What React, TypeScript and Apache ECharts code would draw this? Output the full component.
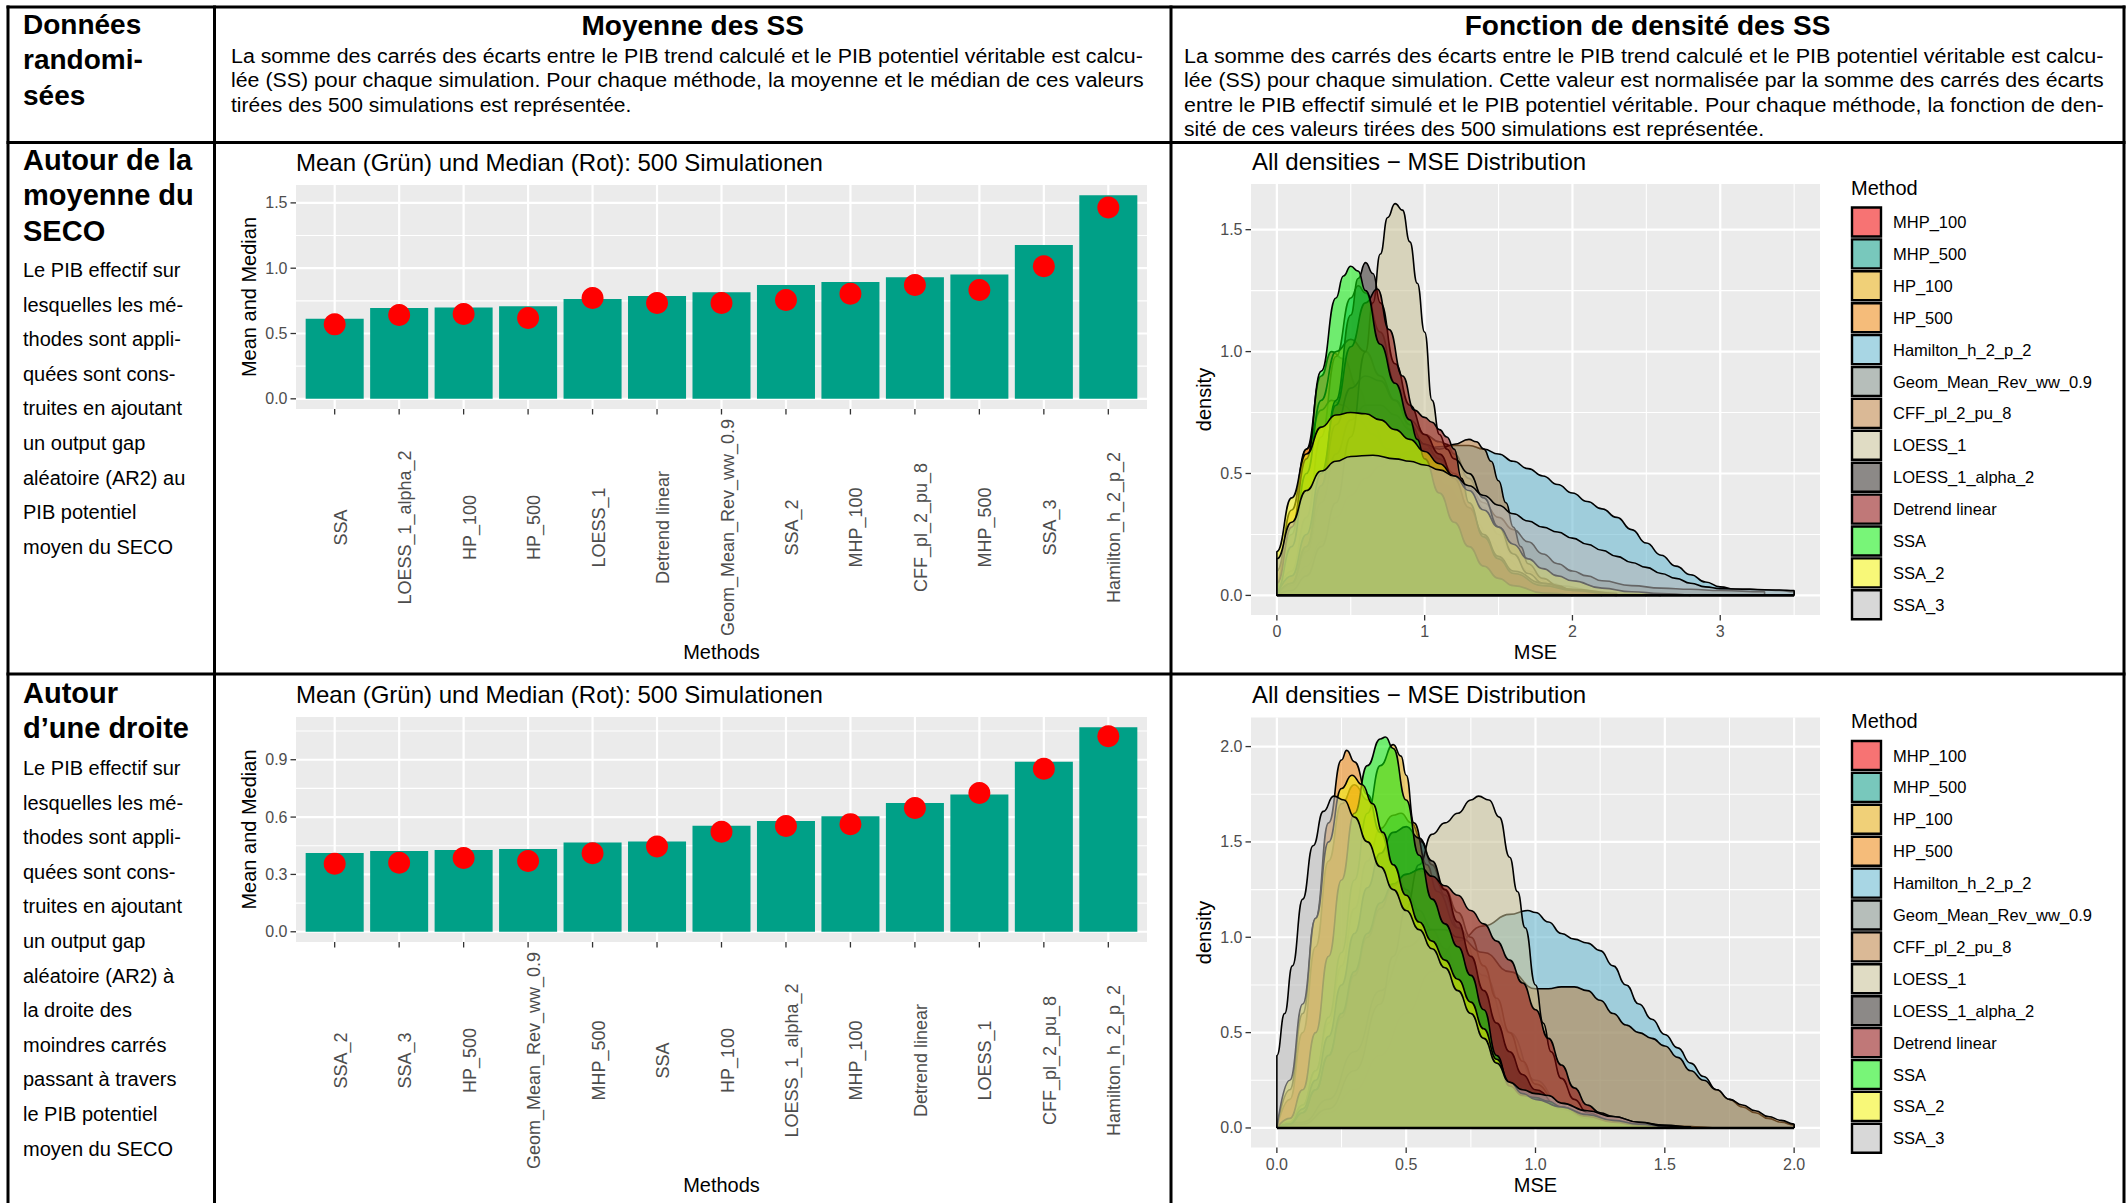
import React, { useEffect, useRef } from 'react';
import * as echarts from 'echarts';

const W = 2127;
const H = 1203;
const FONT = 'Liberation Sans, Arial, Helvetica, sans-serif';

// ---------------- Bar charts: means (bars) and medians (points) ----------------
const barTopCategories = ['SSA', 'LOESS_1_alpha_2', 'HP_100', 'HP_500', 'LOESS_1', 'Detrend linear', 'Geom_Mean_Rev_ww_0.9', 'SSA_2', 'MHP_100', 'CFF_pl_2_pu_8', 'MHP_500', 'SSA_3', 'Hamilton_h_2_p_2'];
const barTopMeans = [0.613, 0.695, 0.7, 0.708, 0.764, 0.787, 0.815, 0.871, 0.894, 0.93, 0.951, 1.178, 1.559];
const barTopMedians = [0.57, 0.641, 0.649, 0.618, 0.772, 0.733, 0.733, 0.756, 0.805, 0.871, 0.833, 1.015, 1.464];
const barTopYTicks = [0, 0.5, 1.0, 1.5];
const barTopYMinor = [0.25, 0.75, 1.25];

const barBotCategories = ['SSA_2', 'SSA_3', 'HP_500', 'Geom_Mean_Rev_ww_0.9', 'MHP_500', 'SSA', 'HP_100', 'LOESS_1_alpha_2', 'MHP_100', 'Detrend linear', 'LOESS_1', 'CFF_pl_2_pu_8', 'Hamilton_h_2_p_2'];
const barBotMeans = [0.412, 0.423, 0.428, 0.433, 0.467, 0.472, 0.554, 0.579, 0.604, 0.674, 0.718, 0.889, 1.07];
const barBotMedians = [0.356, 0.361, 0.386, 0.37, 0.411, 0.446, 0.523, 0.553, 0.563, 0.647, 0.726, 0.853, 1.023];
const barBotYTicks = [0, 0.3, 0.6, 0.9];
const barBotYMinor = [0.15, 0.45, 0.75, 1.05];

// ---------------- Density charts ----------------
const methods = ['MHP_100', 'MHP_500', 'HP_100', 'HP_500', 'Hamilton_h_2_p_2', 'Geom_Mean_Rev_ww_0.9', 'CFF_pl_2_pu_8', 'LOESS_1', 'LOESS_1_alpha_2', 'Detrend linear', 'SSA', 'SSA_2', 'SSA_3'];
const methodColors = ['#F00000', '#0A9B85', '#E4AA0A', '#ED850D', '#61B4CE', '#7A8982', '#BC8040', '#C7BF94', '#2E2825', '#8C0A0A', '#0AED0A', '#F2F20A', '#B8B8B8'];

const densTopXTicks = [0, 1, 2, 3];
const densTopXMinor = [0.5, 1.5, 2.5, 3.5];
const densTopYTicks = [0, 0.5, 1.0, 1.5];
const densTopYMinor = [0.25, 0.75, 1.25];
const densBotXTicks = [0, 0.5, 1.0, 1.5, 2.0];
const densBotXMinor = [0.25, 0.75, 1.25, 1.75];
const densBotYTicks = [0, 0.5, 1.0, 1.5, 2.0];
const densBotYMinor = [0.25, 0.75, 1.25, 1.75];

// top density (around SECO mean)
const dTopMHP100 = [[0, 0], [0.1, 0.25], [0.2, 0.6], [0.3, 0.9], [0.37, 1.0], [0.45, 0.97], [0.55, 0.85], [0.65, 0.7], [0.75, 0.58], [0.85, 0.5], [0.95, 0.42], [1.05, 0.35], [1.15, 0.28], [1.3, 0.18], [1.45, 0.1], [1.6, 0.05], [1.8, 0.025], [2.0, 0.01], [2.3, 0]];
const dTopMHP500 = [[0, 0], [0.1, 0.1], [0.2, 0.32], [0.3, 0.65], [0.4, 0.98], [0.5, 1.22], [0.55, 1.27], [0.6, 1.24], [0.7, 1.08], [0.8, 0.87], [0.9, 0.68], [1.0, 0.52], [1.1, 0.38], [1.2, 0.27], [1.3, 0.18], [1.4, 0.11], [1.5, 0.07], [1.7, 0.03], [2.0, 0.01], [2.2, 0]];
const dTopHP100 = [[0, 0.1], [0.1, 0.35], [0.2, 0.6], [0.3, 0.76], [0.37, 0.8], [0.45, 0.78], [0.55, 0.72], [0.65, 0.66], [0.75, 0.6], [0.85, 0.56], [0.95, 0.53], [1.05, 0.5], [1.15, 0.45], [1.25, 0.38], [1.35, 0.3], [1.45, 0.22], [1.55, 0.15], [1.7, 0.08], [1.9, 0.04], [2.2, 0.015], [2.5, 0]];
const dTopHP500 = [[0, 0.02], [0.1, 0.2], [0.2, 0.5], [0.3, 0.8], [0.4, 1.0], [0.5, 1.05], [0.6, 1.0], [0.7, 0.9], [0.8, 0.8], [0.9, 0.72], [1.0, 0.66], [1.1, 0.63], [1.15, 0.62], [1.2, 0.58], [1.3, 0.48], [1.4, 0.36], [1.5, 0.25], [1.6, 0.16], [1.7, 0.1], [1.85, 0.05], [2.0, 0.025], [2.3, 0.008], [2.6, 0]];
const dTopHamilton = [[0, 0], [0.1, 0.04], [0.2, 0.12], [0.3, 0.22], [0.4, 0.32], [0.5, 0.41], [0.6, 0.48], [0.7, 0.53], [0.8, 0.57], [0.9, 0.59], [1.0, 0.6], [1.1, 0.61], [1.2, 0.615], [1.3, 0.615], [1.4, 0.6], [1.5, 0.58], [1.6, 0.55], [1.7, 0.52], [1.8, 0.49], [1.9, 0.455], [2.0, 0.42], [2.1, 0.385], [2.2, 0.355], [2.3, 0.32], [2.4, 0.27], [2.5, 0.215], [2.6, 0.165], [2.7, 0.12], [2.8, 0.085], [2.9, 0.055], [3.0, 0.035], [3.1, 0.025], [3.2, 0.025], [3.3, 0.022], [3.4, 0.02], [3.5, 0.015]];
const dTopGeom = [[0, 0], [0.1, 0.05], [0.2, 0.18], [0.3, 0.38], [0.4, 0.58], [0.5, 0.72], [0.6, 0.78], [0.7, 0.78], [0.8, 0.74], [0.9, 0.68], [1.0, 0.62], [1.1, 0.56], [1.2, 0.5], [1.3, 0.44], [1.4, 0.38], [1.5, 0.32], [1.6, 0.27], [1.7, 0.22], [1.8, 0.17], [1.9, 0.13], [2.0, 0.1], [2.1, 0.08], [2.2, 0.06], [2.4, 0.04], [2.6, 0.03], [2.8, 0.025], [3.0, 0.02], [3.3, 0.015]];
const dTopCFF = [[0, 0], [0.1, 0.05], [0.2, 0.2], [0.3, 0.45], [0.4, 0.7], [0.5, 0.85], [0.6, 0.9], [0.7, 0.88], [0.8, 0.8], [0.9, 0.7], [1.0, 0.62], [1.1, 0.6], [1.2, 0.62], [1.3, 0.64], [1.35, 0.63], [1.4, 0.6], [1.45, 0.55], [1.5, 0.47], [1.55, 0.38], [1.6, 0.28], [1.65, 0.2], [1.7, 0.13], [1.8, 0.07], [1.9, 0.04], [2.0, 0.02], [2.2, 0.005]];
const dTopLOESS1 = [[0, 0], [0.1, 0.02], [0.2, 0.08], [0.3, 0.2], [0.4, 0.38], [0.5, 0.65], [0.6, 1.0], [0.65, 1.2], [0.7, 1.4], [0.75, 1.55], [0.8, 1.607], [0.85, 1.58], [0.9, 1.45], [0.95, 1.28], [1.0, 1.08], [1.05, 0.8], [1.1, 0.66], [1.15, 0.6], [1.2, 0.56], [1.3, 0.5], [1.4, 0.4], [1.5, 0.28], [1.6, 0.17], [1.7, 0.09], [1.8, 0.05], [2.0, 0.02], [2.3, 0.005]];
const dTopLOESS1a2 = [[0, 0], [0.1, 0.05], [0.2, 0.2], [0.3, 0.45], [0.4, 0.8], [0.5, 1.15], [0.55, 1.3], [0.6, 1.365], [0.65, 1.32], [0.7, 1.2], [0.8, 0.95], [0.9, 0.78], [1.0, 0.66], [1.1, 0.58], [1.2, 0.48], [1.3, 0.36], [1.4, 0.25], [1.5, 0.16], [1.6, 0.1], [1.8, 0.05], [2.0, 0.025], [2.3, 0.008]];
const dTopDetrend = [[0, 0], [0.1, 0.08], [0.2, 0.25], [0.3, 0.5], [0.4, 0.78], [0.5, 1.02], [0.6, 1.2], [0.68, 1.257], [0.76, 1.09], [0.85, 0.9], [0.93, 0.76], [1.0, 0.73], [1.05, 0.71], [1.1, 0.68], [1.15, 0.65], [1.2, 0.6], [1.25, 0.48], [1.3, 0.38], [1.4, 0.24], [1.5, 0.15], [1.6, 0.09], [1.8, 0.04], [2.0, 0.02], [2.3, 0.005]];
const dTopSSA = [[0, 0.05], [0.1, 0.28], [0.2, 0.56], [0.3, 0.92], [0.4, 1.22], [0.45, 1.31], [0.5, 1.35], [0.55, 1.33], [0.6, 1.25], [0.7, 1.03], [0.8, 0.87], [0.9, 0.72], [0.95, 0.64], [1.0, 0.56], [1.1, 0.42], [1.2, 0.3], [1.3, 0.2], [1.4, 0.12], [1.5, 0.07], [1.6, 0.04], [1.8, 0.01], [2.0, 0]];
const dTopSSA2 = [[0, 0.18], [0.1, 0.4], [0.2, 0.58], [0.3, 0.69], [0.4, 0.74], [0.5, 0.75], [0.6, 0.745], [0.7, 0.72], [0.8, 0.68], [0.9, 0.64], [1.0, 0.59], [1.1, 0.54], [1.2, 0.49], [1.3, 0.43], [1.4, 0.35], [1.5, 0.28], [1.6, 0.21], [1.7, 0.15], [1.8, 0.11], [1.9, 0.08], [2.0, 0.06], [2.2, 0.03], [2.4, 0.015], [2.6, 0.008], [2.8, 0]];
const dTopSSA3 = [[0, 0.15], [0.1, 0.3], [0.2, 0.43], [0.3, 0.51], [0.4, 0.55], [0.5, 0.57], [0.65, 0.575], [0.8, 0.56], [0.9, 0.55], [1.0, 0.535], [1.1, 0.515], [1.2, 0.49], [1.3, 0.45], [1.4, 0.41], [1.5, 0.37], [1.6, 0.335], [1.7, 0.305], [1.8, 0.28], [1.9, 0.26], [2.0, 0.235], [2.1, 0.21], [2.2, 0.185], [2.3, 0.16], [2.4, 0.135], [2.5, 0.115], [2.6, 0.09], [2.7, 0.07], [2.8, 0.05], [2.9, 0.035], [3.0, 0.028], [3.2, 0.025], [3.4, 0.022], [3.5, 0.02]];

// bottom density (around a straight line)
const dBotMHP100 = [[0, 0], [0.05, 0.15], [0.1, 0.5], [0.15, 0.95], [0.2, 1.4], [0.25, 1.7], [0.3, 1.8], [0.35, 1.72], [0.4, 1.55], [0.45, 1.38], [0.5, 1.24], [0.55, 1.12], [0.6, 1.0], [0.65, 0.9], [0.7, 0.78], [0.75, 0.64], [0.8, 0.5], [0.85, 0.36], [0.9, 0.24], [1.0, 0.12], [1.1, 0.06], [1.2, 0.03], [1.4, 0.01], [1.6, 0]];
const dBotMHP500 = [[0, 0], [0.05, 0.03], [0.1, 0.12], [0.15, 0.3], [0.2, 0.55], [0.25, 0.85], [0.3, 1.15], [0.35, 1.4], [0.4, 1.57], [0.45, 1.64], [0.48, 1.65], [0.52, 1.6], [0.56, 1.5], [0.6, 1.38], [0.65, 1.22], [0.7, 1.05], [0.75, 0.88], [0.8, 0.7], [0.85, 0.52], [0.9, 0.36], [0.95, 0.24], [1.0, 0.16], [1.1, 0.08], [1.2, 0.04], [1.4, 0.01], [1.6, 0]];
const dBotHP100 = [[0, 0], [0.05, 0.03], [0.1, 0.12], [0.15, 0.3], [0.2, 0.58], [0.25, 0.92], [0.3, 1.3], [0.35, 1.65], [0.4, 1.9], [0.45, 2.01], [0.48, 1.95], [0.5, 1.85], [0.53, 1.6], [0.58, 1.38], [0.62, 1.24], [0.7, 1.05], [0.8, 0.8], [0.9, 0.5], [1.0, 0.25], [1.1, 0.12], [1.2, 0.06], [1.3, 0.03], [1.5, 0.01], [1.7, 0]];
const dBotHP500 = [[0, 0], [0.05, 0.2], [0.1, 0.6], [0.15, 1.1], [0.2, 1.6], [0.25, 1.93], [0.27, 1.98], [0.3, 1.92], [0.35, 1.75], [0.4, 1.55], [0.45, 1.38], [0.5, 1.25], [0.55, 1.14], [0.6, 1.04], [0.65, 0.94], [0.7, 0.82], [0.75, 0.68], [0.8, 0.52], [0.85, 0.37], [0.9, 0.25], [0.95, 0.17], [1.0, 0.12], [1.1, 0.07], [1.2, 0.04], [1.4, 0.01], [1.6, 0]];
const dBotHamilton = [[0, 0], [0.1, 0.02], [0.2, 0.08], [0.3, 0.2], [0.4, 0.38], [0.5, 0.6], [0.6, 0.82], [0.7, 0.98], [0.8, 1.06], [0.9, 1.12], [0.97, 1.14], [1.0, 1.13], [1.05, 1.08], [1.1, 1.02], [1.15, 0.99], [1.2, 0.97], [1.25, 0.93], [1.3, 0.85], [1.35, 0.75], [1.4, 0.65], [1.45, 0.57], [1.5, 0.49], [1.55, 0.42], [1.6, 0.34], [1.65, 0.27], [1.7, 0.2], [1.75, 0.15], [1.8, 0.11], [1.85, 0.08], [1.9, 0.05], [1.95, 0.03], [2.0, 0.015]];
const dBotGeom = [[0, 0], [0.05, 0.02], [0.1, 0.08], [0.15, 0.2], [0.2, 0.38], [0.25, 0.58], [0.3, 0.8], [0.35, 1.0], [0.4, 1.15], [0.45, 1.27], [0.5, 1.33], [0.55, 1.35], [0.6, 1.32], [0.65, 1.25], [0.7, 1.13], [0.75, 1.0], [0.8, 0.85], [0.85, 0.68], [0.9, 0.5], [0.95, 0.35], [1.0, 0.23], [1.1, 0.1], [1.2, 0.05], [1.3, 0.03], [1.5, 0.01], [1.7, 0]];
const dBotCFF = [[0, 0], [0.1, 0.03], [0.2, 0.15], [0.3, 0.4], [0.4, 0.72], [0.5, 0.95], [0.6, 1.04], [0.65, 1.04], [0.7, 1.0], [0.8, 0.92], [0.9, 0.82], [1.0, 0.73], [1.05, 0.73], [1.1, 0.74], [1.15, 0.74], [1.2, 0.72], [1.25, 0.67], [1.3, 0.6], [1.35, 0.54], [1.4, 0.5], [1.45, 0.47], [1.5, 0.43], [1.55, 0.37], [1.6, 0.3], [1.65, 0.25], [1.7, 0.2], [1.75, 0.15], [1.8, 0.12], [1.85, 0.09], [1.9, 0.06], [1.95, 0.04], [2.0, 0.02]];
const dBotLOESS1 = [[0, 0], [0.1, 0.02], [0.2, 0.1], [0.3, 0.3], [0.4, 0.65], [0.45, 0.9], [0.5, 1.15], [0.55, 1.38], [0.6, 1.54], [0.65, 1.6], [0.7, 1.65], [0.75, 1.72], [0.78, 1.74], [0.82, 1.72], [0.86, 1.63], [0.9, 1.42], [0.93, 1.24], [0.96, 1.05], [1.0, 0.75], [1.03, 0.55], [1.06, 0.4], [1.1, 0.26], [1.15, 0.15], [1.2, 0.08], [1.3, 0.03], [1.4, 0.01], [1.5, 0]];
const dBotLOESS1a2 = [[0, 0], [0.05, 0.02], [0.1, 0.1], [0.15, 0.25], [0.2, 0.48], [0.25, 0.75], [0.3, 1.02], [0.35, 1.26], [0.4, 1.44], [0.45, 1.55], [0.5, 1.58], [0.55, 1.52], [0.6, 1.4], [0.65, 1.25], [0.7, 1.08], [0.75, 0.9], [0.8, 0.72], [0.85, 0.55], [0.9, 0.4], [0.95, 0.28], [1.0, 0.2], [1.1, 0.1], [1.2, 0.05], [1.4, 0.015], [1.6, 0]];
const dBotDetrend = [[0, 0], [0.05, 0.02], [0.1, 0.08], [0.15, 0.2], [0.2, 0.38], [0.25, 0.6], [0.3, 0.82], [0.35, 1.02], [0.4, 1.18], [0.45, 1.28], [0.5, 1.33], [0.56, 1.36], [0.6, 1.32], [0.65, 1.27], [0.7, 1.22], [0.75, 1.14], [0.8, 1.07], [0.85, 0.98], [0.9, 0.88], [0.95, 0.76], [1.0, 0.62], [1.05, 0.47], [1.1, 0.33], [1.15, 0.21], [1.2, 0.12], [1.25, 0.08], [1.3, 0.06], [1.4, 0.03], [1.5, 0.015], [1.6, 0.005]];
const dBotSSA = [[0, 0], [0.05, 0.05], [0.1, 0.2], [0.15, 0.5], [0.2, 0.9], [0.25, 1.3], [0.3, 1.65], [0.35, 1.9], [0.4, 2.04], [0.42, 2.05], [0.45, 1.99], [0.5, 1.72], [0.55, 1.43], [0.6, 1.2], [0.65, 1.07], [0.7, 0.95], [0.75, 0.8], [0.8, 0.62], [0.85, 0.38], [0.9, 0.22], [0.95, 0.17], [1.0, 0.16], [1.05, 0.14], [1.1, 0.11], [1.2, 0.06], [1.3, 0.03], [1.4, 0.015], [1.5, 0.005]];
const dBotSSA2 = [[0, 0], [0.05, 0.25], [0.1, 0.65], [0.15, 1.1], [0.2, 1.5], [0.25, 1.78], [0.29, 1.85], [0.33, 1.8], [0.37, 1.7], [0.41, 1.55], [0.45, 1.38], [0.5, 1.22], [0.55, 1.08], [0.6, 0.98], [0.65, 0.88], [0.7, 0.78], [0.75, 0.66], [0.8, 0.52], [0.85, 0.36], [0.9, 0.24], [0.95, 0.18], [1.0, 0.15], [1.1, 0.11], [1.2, 0.07], [1.3, 0.04], [1.4, 0.02], [1.5, 0.008]];
const dBotSSA3 = [[0, 0.38], [0.03, 0.6], [0.06, 0.85], [0.1, 1.2], [0.14, 1.48], [0.18, 1.66], [0.22, 1.74], [0.26, 1.72], [0.3, 1.63], [0.35, 1.5], [0.4, 1.37], [0.45, 1.25], [0.5, 1.14], [0.55, 1.04], [0.6, 0.94], [0.65, 0.84], [0.7, 0.72], [0.75, 0.6], [0.8, 0.47], [0.85, 0.34], [0.9, 0.24], [0.95, 0.2], [1.0, 0.18], [1.05, 0.17], [1.1, 0.13], [1.2, 0.09], [1.3, 0.06], [1.4, 0.03], [1.5, 0.01], [1.6, 0.005]];

const densTopCurves = [dTopMHP100, dTopMHP500, dTopHP100, dTopHP500, dTopHamilton, dTopGeom, dTopCFF, dTopLOESS1, dTopLOESS1a2, dTopDetrend, dTopSSA, dTopSSA2, dTopSSA3];
const densBotCurves = [dBotMHP100, dBotMHP500, dBotHP100, dBotHP500, dBotHamilton, dBotGeom, dBotCFF, dBotLOESS1, dBotLOESS1a2, dBotDetrend, dBotSSA, dBotSSA2, dBotSSA3];

// ---------------- Texts ----------------
const headerCol1 = ['Données', 'randomi-', 'sées'];
const headerCol2Title = 'Moyenne des SS';
const headerCol2Lines = [
  'La somme des carrés des écarts entre le PIB trend calculé et le PIB potentiel véritable est calcu-',
  'lée (SS) pour chaque simulation. Pour chaque méthode, la moyenne et le médian de ces valeurs',
  'tirées des 500 simulations est représentée.',
];
const headerCol3Title = 'Fonction de densité des SS';
const headerCol3Lines = [
  'La somme des carrés des écarts entre le PIB trend calculé et le PIB potentiel véritable est calcu-',
  'lée (SS) pour chaque simulation. Cette valeur est normalisée par la somme des carrés des écarts',
  'entre le PIB effectif simulé et le PIB potentiel véritable. Pour chaque méthode, la fonction de den-',
  'sité de ces valeurs tirées des 500 simulations est représentée.',
];
const row1Heading = ['Autour de la', 'moyenne du', 'SECO'];
const row1Body = ['Le PIB effectif sur', 'lesquelles les mé-', 'thodes sont appli-', 'quées sont cons-', 'truites en ajoutant', 'un output gap', 'aléatoire (AR2) au', 'PIB potentiel', 'moyen du SECO'];
const row2Heading = ['Autour', 'd\u2019une droite'];
const row2Body = ['Le PIB effectif sur', 'lesquelles les mé-', 'thodes sont appli-', 'quées sont cons-', 'truites en ajoutant', 'un output gap', 'aléatoire (AR2) à', 'la droite des', 'moindres carrés', 'passant à travers', 'le PIB potentiel', 'moyen du SECO'];
const barTitle = 'Mean (Grün) und Median (Rot): 500 Simulationen';
const densTitle = 'All densities \u2212 MSE Distribution';

// ---------------- Layout (pixels) ----------------
type Rect = { left: number; top: number; width: number; height: number };
const PANEL_BAR_TOP: Rect = { left: 296, top: 185, width: 851, height: 224 };
const PANEL_BAR_BOT: Rect = { left: 296, top: 717, width: 851, height: 225 };
const PANEL_DEN_TOP: Rect = { left: 1251, top: 184, width: 569, height: 431 };
const PANEL_DEN_BOT: Rect = { left: 1251, top: 717.5, width: 569, height: 430 };
const TICK_LEN = 5.5;
const TICK_COLOR = '#333333';
const TICK_TEXT = '#4D4D4D';
const BAR_COLOR = '#00A087';
const POINT_COLOR = '#FF0000';
const FILL_ALPHA = 0.55;

const expand = (lo: number, hi: number) => {
  const r = hi - lo;
  return [lo - 0.05 * r, hi + 0.05 * r];
};

const hexToRgba = (hex: string, a: number) => {
  const n = parseInt(hex.slice(1), 16);
  return `rgba(${(n >> 16) & 255},${(n >> 8) & 255},${n & 255},${a})`;
};

let measureCtx: CanvasRenderingContext2D | null = null;
const measure = (text: string, font: string) => {
  if (!measureCtx) measureCtx = document.createElement('canvas').getContext('2d');
  if (!measureCtx) return 0;
  measureCtx.font = font;
  return measureCtx.measureText(text).width;
};

const txt = (x: number, y: number, text: string, font: string, extra: any = {}) => {
  const align = extra.align || 'left';
  const va = extra.verticalAlign || 'middle';
  return {
    type: 'text',
    x,
    y,
    silent: true,
    rotation: extra.rotation || 0,
    scaleX: extra.scaleX || 1,
    z: 60,
    style: {
      text,
      font,
      fill: extra.fill || '#000000',
      align,
      verticalAlign: va,
      textAlign: align,
      textVerticalAlign: va,
    },
  };
};

function gridLinesSeries(gi: number, xExt: number[], yExt: number[], xMaj: number[], xMin: number[], yMaj: number[], yMin: number[]) {
  const data: number[][] = [];
  xMin.forEach((v) => data.push([v, 0, 0]));
  yMin.forEach((v) => data.push([v, 1, 0]));
  xMaj.forEach((v) => data.push([v, 0, 1]));
  yMaj.forEach((v) => data.push([v, 1, 1]));
  return {
    type: 'custom',
    xAxisIndex: gi,
    yAxisIndex: gi,
    z: 1,
    silent: true,
    clip: false,
    data,
    renderItem: (params: any, api: any) => {
      const d = data[params.dataIndex];
      const v = d[0];
      let p1: number[];
      let p2: number[];
      if (d[1] === 0) {
        p1 = api.coord([v, yExt[0]]);
        p2 = api.coord([v, yExt[1]]);
      } else {
        p1 = api.coord([xExt[0], v]);
        p2 = api.coord([xExt[1], v]);
      }
      return {
        type: 'line',
        shape: { x1: p1[0], y1: p1[1], x2: p2[0], y2: p2[1] },
        style: { stroke: '#FFFFFF', lineWidth: d[2] ? 2.2 : 1.1 },
      };
    },
  };
}

function xTickSeries(gi: number, yExt: number[], values: number[], labels: string[], offset: number, rotated: boolean, fontSize: number) {
  return {
    type: 'custom',
    xAxisIndex: gi,
    yAxisIndex: gi,
    z: 50,
    silent: true,
    clip: false,
    data: values.map((v) => [v, yExt[0]]),
    renderItem: (params: any, api: any) => {
      const i = params.dataIndex;
      const p = api.coord([values[i], yExt[0]]);
      const va = rotated ? 'middle' : 'top';
      return {
        type: 'group',
        children: [
          { type: 'line', shape: { x1: p[0], y1: p[1], x2: p[0], y2: p[1] + TICK_LEN }, style: { stroke: TICK_COLOR, lineWidth: 1.3 } },
          {
            type: 'text',
            x: p[0] + (rotated ? 6 : 0),
            y: p[1] + offset,
            rotation: rotated ? Math.PI / 2 : 0,
            style: { text: labels[i], font: `${fontSize}px ${FONT}`, fill: TICK_TEXT, align: 'center', verticalAlign: va, textAlign: 'center', textVerticalAlign: va },
          },
        ],
      };
    },
  };
}

function yTickSeries(gi: number, xExt: number[], values: number[], labels: string[], fontSize: number) {
  return {
    type: 'custom',
    xAxisIndex: gi,
    yAxisIndex: gi,
    z: 50,
    silent: true,
    clip: false,
    data: values.map((v) => [xExt[0], v]),
    renderItem: (params: any, api: any) => {
      const i = params.dataIndex;
      const p = api.coord([xExt[0], values[i]]);
      return {
        type: 'group',
        children: [
          { type: 'line', shape: { x1: p[0] - TICK_LEN, y1: p[1], x2: p[0], y2: p[1] }, style: { stroke: TICK_COLOR, lineWidth: 1.3 } },
          {
            type: 'text',
            x: p[0] - TICK_LEN - 3,
            y: p[1],
            style: { text: labels[i], font: `${fontSize}px ${FONT}`, fill: TICK_TEXT, align: 'right', verticalAlign: 'middle', textAlign: 'right', textVerticalAlign: 'middle' },
          },
        ],
      };
    },
  };
}

function closeCurve(c: number[][]) {
  const out = c.map((p) => [p[0], p[1]]);
  if (out[0][1] > 0) out.unshift([out[0][0], 0]);
  const last = out[out.length - 1];
  if (last[1] > 0) out.push([last[0], 0]);
  return out;
}

function buildOption() {
  const barTopY = expand(0, Math.max(...barTopMeans, ...barTopMedians));
  const barBotY = expand(0, Math.max(...barBotMeans, ...barBotMedians));
  const barTopX = [-0.6, barTopCategories.length - 1 + 0.6];
  const barBotX = [-0.6, barBotCategories.length - 1 + 0.6];
  const cMinX = (cs: number[][][]) => Math.min(...cs.map((c) => c[0][0]));
  const cMaxX = (cs: number[][][]) => Math.max(...cs.map((c) => c[c.length - 1][0]));
  const cMaxY = (cs: number[][][]) => Math.max(...cs.map((c) => Math.max(...c.map((p) => p[1]))));
  const denTopX = expand(cMinX(densTopCurves), cMaxX(densTopCurves));
  const denTopY = expand(0, cMaxY(densTopCurves));
  const denBotX = expand(cMinX(densBotCurves), cMaxX(densBotCurves));
  const denBotY = expand(0, cMaxY(densBotCurves));

  const panels = [PANEL_BAR_TOP, PANEL_BAR_BOT, PANEL_DEN_TOP, PANEL_DEN_BOT];
  const exts = [
    [barTopX, barTopY],
    [barBotX, barBotY],
    [denTopX, denTopY],
    [denBotX, denBotY],
  ];

  const series: any[] = [];
  series.push(gridLinesSeries(0, barTopX, barTopY, barTopCategories.map((_, i) => i), [], barTopYTicks, barTopYMinor));
  series.push(gridLinesSeries(1, barBotX, barBotY, barBotCategories.map((_, i) => i), [], barBotYTicks, barBotYMinor));
  series.push(gridLinesSeries(2, denTopX, denTopY, densTopXTicks, densTopXMinor, densTopYTicks, densTopYMinor));
  series.push(gridLinesSeries(3, denBotX, denBotY, densBotXTicks, densBotXMinor, densBotYTicks, densBotYMinor));

  const barDefs = [
    { gi: 0, means: barTopMeans, medians: barTopMedians, xExt: barTopX, panel: PANEL_BAR_TOP },
    { gi: 1, means: barBotMeans, medians: barBotMedians, xExt: barBotX, panel: PANEL_BAR_BOT },
  ];
  barDefs.forEach((b) => {
    const unit = b.panel.width / (b.xExt[1] - b.xExt[0]);
    series.push({
      type: 'bar',
      xAxisIndex: b.gi,
      yAxisIndex: b.gi,
      z: 2,
      silent: true,
      barWidth: unit * 0.9,
      itemStyle: { color: BAR_COLOR },
      data: b.means.map((v, i) => [i, v]),
    });
    series.push({
      type: 'scatter',
      xAxisIndex: b.gi,
      yAxisIndex: b.gi,
      z: 3,
      silent: true,
      symbol: 'circle',
      symbolSize: 22,
      itemStyle: { color: POINT_COLOR, opacity: 1 },
      data: b.medians.map((v, i) => [i, v]),
    });
  });

  const denDefs = [
    { gi: 2, curves: densTopCurves },
    { gi: 3, curves: densBotCurves },
  ];
  denDefs.forEach((d) => {
    d.curves.forEach((c, k) => {
      series.push({
        type: 'line',
        name: methods[k],
        xAxisIndex: d.gi,
        yAxisIndex: d.gi,
        z: 10 + k,
        silent: true,
        showSymbol: false,
        symbol: 'none',
        smooth: 0.5,
        smoothMonotone: 'x',
        data: closeCurve(c),
        lineStyle: { color: '#000000', width: 1.6 },
        areaStyle: { color: methodColors[k], opacity: FILL_ALPHA },
      });
    });
    const lo = cMinX(d.curves);
    const hi = cMaxX(d.curves);
    series.push({
      type: 'line',
      xAxisIndex: d.gi,
      yAxisIndex: d.gi,
      z: 40,
      silent: true,
      showSymbol: false,
      symbol: 'none',
      data: [[lo, 0], [hi, 0]],
      lineStyle: { color: '#000000', width: 2.6 },
    });
  });

  series.push(yTickSeries(0, barTopX, barTopYTicks, barTopYTicks.map((v) => v.toFixed(1)), 16));
  series.push(yTickSeries(1, barBotX, barBotYTicks, barBotYTicks.map((v) => v.toFixed(1)), 16));
  series.push(xTickSeries(0, barTopY, barTopCategories.map((_, i) => i), barTopCategories, 118.5, true, 18));
  series.push(xTickSeries(1, barBotY, barBotCategories.map((_, i) => i), barBotCategories, 118.5, true, 18));
  series.push(yTickSeries(2, denTopX, densTopYTicks, densTopYTicks.map((v) => v.toFixed(1)), 16));
  series.push(yTickSeries(3, denBotX, densBotYTicks, densBotYTicks.map((v) => v.toFixed(1)), 16));
  series.push(xTickSeries(2, denTopY, densTopXTicks, densTopXTicks.map((v) => v.toFixed(0)), TICK_LEN + 3, false, 16));
  series.push(xTickSeries(3, denBotY, densBotXTicks, densBotXTicks.map((v) => v.toFixed(1)), TICK_LEN + 3, false, 16));

  const g: any[] = [];
  const line = (x1: number, y1: number, x2: number, y2: number) => ({
    type: 'line',
    silent: true,
    z: 60,
    shape: { x1, y1, x2, y2 },
    style: { stroke: '#000000', lineWidth: 3 },
  });
  const colX = [8, 214.5, 1171, 2124];
  const rowY = [7, 142.5, 674];
  rowY.forEach((y) => g.push(line(6.5, y, 2125.5, y)));
  colX.forEach((x) => g.push(line(x, 5.5, x, H)));

  const boldH = `bold 28px ${FONT}`;
  const para = `21px ${FONT}`;
  headerCol1.forEach((t, i) => g.push(txt(23, 24.4 + i * 35.3, t, boldH)));
  g.push(txt(692.7, 25, headerCol2Title, boldH, { align: 'center' }));
  g.push(txt(1647.5, 25, headerCol3Title, boldH, { align: 'center' }));
  const paraLines = (lines: string[], x: number, right: number) => {
    lines.forEach((t, i) => {
      let sx = 1;
      if (i < lines.length - 1) {
        const w = measure(t, para);
        if (w > 0) sx = Math.max(0.88, Math.min(1.12, (right - x) / w));
      }
      g.push(txt(x, 55.6 + i * 24.4, t, para, { scaleX: sx }));
    });
  };
  paraLines(headerCol2Lines, 231, 1144);
  paraLines(headerCol3Lines, 1184, 2104);

  const boldL = `bold 29px ${FONT}`;
  const body = `20px ${FONT}`;
  row1Heading.forEach((t, i) => g.push(txt(23, 160 + i * 35.3, t, boldL)));
  row1Body.forEach((t, i) => g.push(txt(23, 270 + i * 34.6, t, body)));
  row2Heading.forEach((t, i) => g.push(txt(23, 693 + i * 34.5, t, boldL)));
  row2Body.forEach((t, i) => g.push(txt(23, 768 + i * 34.6, t, body)));

  const titleFont = `24px ${FONT}`;
  const axisTitleFont = `20px ${FONT}`;
  [PANEL_BAR_TOP, PANEL_BAR_BOT].forEach((p) => {
    g.push(txt(p.left, p.top - 23, barTitle, titleFont));
    g.push(txt(p.left + p.width / 2, p.top + p.height + 243, 'Methods', axisTitleFont, { align: 'center' }));
    g.push(txt(p.left - 47, p.top + p.height / 2, 'Mean and Median', axisTitleFont, { align: 'center', rotation: Math.PI / 2 }));
  });
  [PANEL_DEN_TOP, PANEL_DEN_BOT].forEach((p) => {
    g.push(txt(p.left + 1, p.top - 23, densTitle, titleFont));
    g.push(txt(p.left + p.width / 2, p.top + p.height + 37, 'MSE', axisTitleFont, { align: 'center' }));
    g.push(txt(p.left - 47, p.top + p.height / 2, 'density', axisTitleFont, { align: 'center', rotation: Math.PI / 2 }));
    g.push(txt(p.left + 600, p.top + 3.5, 'Method', axisTitleFont));
    methods.forEach((m, k) => {
      const ky = p.top + 23.5 + k * 31.9;
      g.push({
        type: 'rect',
        silent: true,
        z: 60,
        shape: { x: p.left + 601, y: ky, width: 29, height: 29 },
        style: { fill: hexToRgba(methodColors[k], FILL_ALPHA), stroke: '#000000', lineWidth: 2.4 },
      });
      g.push(txt(p.left + 642, ky + 14.5, m, `16.5px ${FONT}`));
    });
  });

  return {
    animation: false,
    backgroundColor: '#FFFFFF',
    textStyle: { fontFamily: FONT },
    grid: panels.map((p) => ({ ...p, show: true, backgroundColor: '#EBEBEB', borderWidth: 0, containLabel: false })),
    xAxis: exts.map((e, i) => ({ type: 'value', gridIndex: i, min: e[0][0], max: e[0][1], show: false })),
    yAxis: exts.map((e, i) => ({ type: 'value', gridIndex: i, min: e[1][0], max: e[1][1], show: false })),
    series,
    graphic: { elements: g },
  };
}

export default function App() {
  const ref = useRef<HTMLDivElement>(null);
  useEffect(() => {
    if (!ref.current) return;
    const chart = echarts.init(ref.current, undefined, { renderer: 'svg', width: W, height: H });
    chart.setOption(buildOption() as any);
    return () => {
      chart.dispose();
    };
  }, []);
  return <div ref={ref} style={{ position: 'absolute', left: 0, top: 0, width: W, height: H, background: '#FFFFFF' }} />;
}
